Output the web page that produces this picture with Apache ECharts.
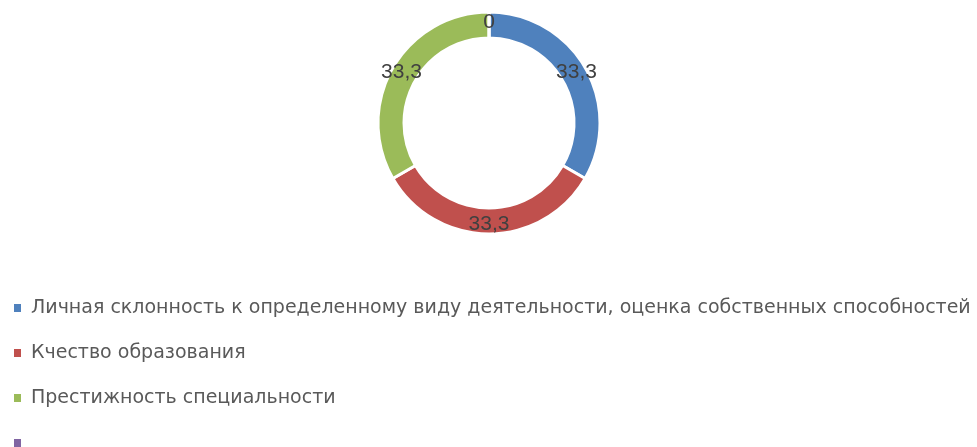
<!DOCTYPE html>
<html>
<head>
<meta charset="utf-8">
<script src="https://cdn.jsdelivr.net/npm/echarts@6/dist/echarts.min.js"></script>
<style>
  html, body { margin: 0; padding: 0; background: #fff; }
  #chart { width: 977px; height: 447px; }
</style>
</head>
<body>
<div id="chart"></div>
<script>
// data
const categories = [
    'Личная склонность к определенному виду деятельности, оценка собственных способностей',
    'Кчество образования',
    'Престижность специальности',
    ' '
];
const values = [33.3, 33.3, 33.3, 0];
const colors = ['#4F81BD', '#C0504D', '#9BBB59', '#8064A2'];

const chart = echarts.init(document.getElementById('chart'));

const option = {
    animation: false,
    color: colors,
    legend: {
        orient: 'vertical',
        left: 12,
        top: 298,
        height: 300,
        padding: 0,
        icon: 'rect',
        itemWidth: 9,
        itemHeight: 10,
        itemGap: 25,
        textStyle: {
            fontFamily: 'DejaVu Sans',
            fontSize: 19,
            lineHeight: 20,
            color: '#595959',
            padding: [0, 0, 0, 4]
        },
        data: categories
    },
    series: [{
        type: 'pie',
        center: [489, 123],
        radius: [85, 111],
        startAngle: 90,
        clockwise: true,
        itemStyle: {
            borderColor: '#fff',
            borderWidth: 3
        },
        label: {
            show: true,
            position: 'inside',
            fontFamily: 'Liberation Sans',
            fontSize: 21,
            color: '#404040',
            formatter: p => String(p.value).replace('.', ',')
        },
        labelLine: { show: false },
        emphasis: { disabled: true },
        data: categories.map((name, i) => ({ name: name, value: values[i] }))
    }]
};

chart.setOption(option);
</script>
</body>
</html>
